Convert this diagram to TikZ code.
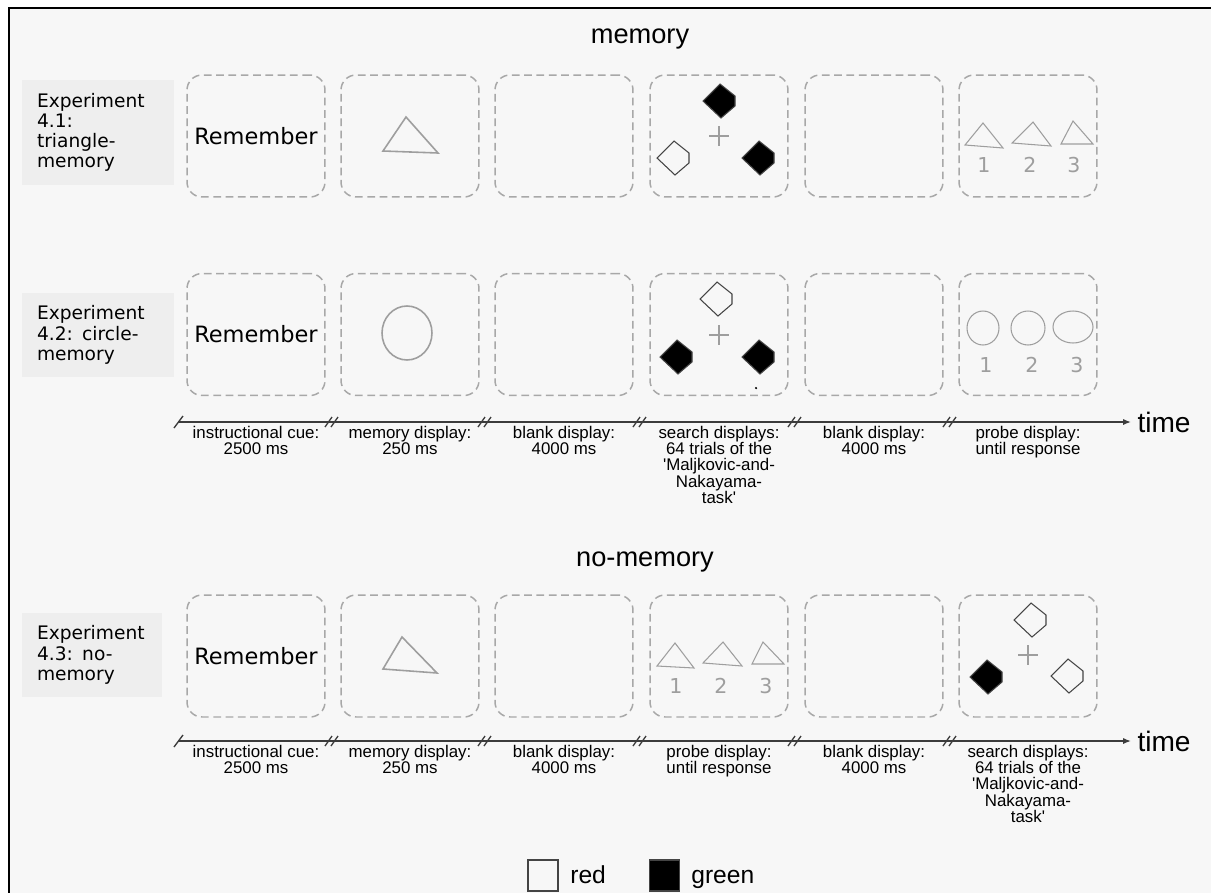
\documentclass[tikz,border=0pt]{standalone}
\usepackage{fontspec}
\setmainfont{Liberation Sans}[Ligatures=TeXOff]
\newfontfamily\dejavu{DejaVu Sans}
\usepackage{tikz}
\usetikzlibrary{arrows.meta}
\usepackage{xcolor}
\definecolor{PageGray}{HTML}{F7F7F7}
\definecolor{LabelGray}{HTML}{EEEEEE}
\definecolor{FrameGray}{HTML}{A8A8A8}
\definecolor{ShapeGray}{HTML}{9E9E9E}
\definecolor{AxisGray}{HTML}{3C3C3C}
\definecolor{GemLine}{HTML}{444444}

\tikzset{
  screen/.style={draw=FrameGray, line width=0.85pt, dash pattern=on 4.4pt off 2.6pt,
    rounded corners=0.3cm, minimum width=2.76cm, minimum height=2.44cm, inner sep=0pt,
    font=\dejavu\fontsize{12.8}{14}\selectfont},
  explabel/.style={fill=LabelGray, inner xsep=0.3cm, inner ysep=0pt, align=left,
    font=\dejavu\fontsize{10.6}{11.5}\selectfont},
  steplabel/.style={anchor=north, inner sep=0pt, align=center, font=\fontsize{9.6}{9.2}\selectfont},
  probenum/.style={inner sep=0pt, text=ShapeGray, font=\dejavu\fontsize{11.7}{12}\selectfont},
  probeline/.style={draw=ShapeGray, line width=0.6pt},
  gemline/.style={draw=GemLine, line width=0.6pt},
  axisline/.style={draw=AxisGray, line width=0.75pt},
  legendbox/.style={draw=GemLine, line width=0.7pt, minimum width=0.6cm, minimum height=0.62cm, inner sep=0pt},
  legendtext/.style={anchor=base west, inner sep=0pt, font=\fontsize{14}{16}\selectfont}
}
\newcommand{\itemgem}[3]{\draw[gemline, fill=#3, shift={(#1,#2)}] (-17,0) -- (0,-17) -- (15,-5) -- (15,5) -- (1,17) -- cycle;}
\newcommand{\fixcross}[2]{\draw[probeline, shift={(#1,#2)}] (-10,0) -- (10,0) (0,-10) -- (0,10);}

\begin{document}
\begin{tikzpicture}[x=0.02cm, y=-0.02cm]
  \useasboundingbox (0,0) rectangle (1211,893);
  \fill[white] (0,0) rectangle (1211,893);
  \fill[PageGray] (9,8) rectangle (1211,893);
  \draw[black, line width=1.1pt] (9,893) -- (9,8) -- (1211,8);

  \node[anchor=base, font=\fontsize{15.5}{18}\selectfont] (ttlmem) at (640,43) {memory};
  \node[anchor=base, font=\fontsize{15.5}{18}\selectfont] (ttlnomem) at (645,566) {no-memory};

  \node[explabel, minimum height=2.1cm, text width=2.44cm] (exa) at (98,132.5) {Experiment\\4.1:\\triangle-\\memory};
  \node[explabel, minimum height=1.68cm, text width=2.44cm] (exb) at (98,335) {Experiment\\4.2: circle-\\memory};
  \node[explabel, minimum height=1.68cm, text width=2.2cm] (exc) at (92,655) {Experiment\\4.3: no-\\memory};

  \foreach \row/\ry in {a/136, b/334.5, c/656}{
    \node[screen] (\row1) at (256,\ry) {Remember};
    \foreach \c/\cx in {2/410, 3/564, 4/719, 5/874, 6/1028}
      \node[screen] (\row\c) at (\cx,\ry) {};
  }

  % memory row a
  \draw[probeline, line width=0.9pt] (406,117) -- (383,151) -- (438,153) -- cycle;
  \itemgem{720}{101}{black}
  \itemgem{674}{158}{none}
  \itemgem{759}{158}{black}
  \fixcross{719}{136}
  \draw[probeline] (983,123) -- (965,145) -- (1003,148) -- cycle;
  \draw[probeline] (1033,122) -- (1012,143) -- (1051,146) -- cycle;
  \draw[probeline] (1073,121) -- (1061,144) -- (1093,144) -- cycle;
  \foreach \n/\x in {1/984, 2/1030, 3/1074}
    \node[probenum] (npa\n) at (\x,165) {\n};

  % memory row b
  \draw[probeline, line width=0.9pt] (407,333) ellipse [x radius=0.5cm, y radius=0.54cm];
  \itemgem{717}{299}{none}
  \itemgem{677}{357}{black}
  \itemgem{759}{357}{black}
  \fixcross{719}{335}
  \fill (756,388) circle (0.025cm);
  \draw[probeline] (983,328) ellipse [x radius=0.32cm, y radius=0.34cm];
  \draw[probeline] (1028,328) ellipse [x radius=0.34cm, y radius=0.34cm];
  \draw[probeline] (1073,327) ellipse [x radius=0.4cm, y radius=0.32cm];
  \foreach \n/\x in {1/986, 2/1032, 3/1077}
    \node[probenum] (npb\n) at (\x,365) {\n};

  % no-memory row c
  \draw[probeline, line width=0.9pt] (402,637) -- (383,669) -- (437,673) -- cycle;
  \draw[probeline] (675,643) -- (657,666) -- (694,668) -- cycle;
  \draw[probeline] (723,642) -- (703,663) -- (742,666) -- cycle;
  \draw[probeline] (763,642) -- (752,664) -- (784,664) -- cycle;
  \foreach \n/\x in {1/676, 2/721, 3/766}
    \node[probenum] (npc\n) at (\x,686) {\n};
  \itemgem{1031}{620}{none}
  \itemgem{987}{677}{black}
  \itemgem{1068}{676}{none}
  \fixcross{1028}{655}

  % time axes
  \foreach \ax/\ay in {a/422, c/741}{
    \coordinate (ax\ax) at (178,\ay);
    \node[anchor=west, inner xsep=3.5pt, inner ysep=0pt, font=\fontsize{16}{18}\selectfont] (time\ax) at (1131,\ay) {time};
    \draw[axisline, -{Latex[length=4.5pt,width=3.5pt]}] (ax\ax) -- (time\ax.west);
    \draw[axisline] (174,\ay+6) -- (183,\ay-6);
    \foreach \g in {333,486,641,796,951}{
      \draw[axisline] (\g-8,\ay+5) -- (\g-1,\ay-5);
      \draw[axisline] (\g-2,\ay+5) -- (\g+5,\ay-5);
    }
  }

  \foreach \n/\x/\txt in {1/256/{instructional cue:\\2500 ms}, 2/410/{memory display:\\250 ms},
      3/564/{blank display:\\4000 ms}, 4/719/{search displays:\\64 trials of the\\'Maljkovic-and-\\Nakayama-\\task'},
      5/874/{blank display:\\4000 ms}, 6/1028/{probe display:\\until response}}
    \node[steplabel] (sa\n) at (\x,426) {\txt};

  \foreach \n/\x/\txt in {1/256/{instructional cue:\\2500 ms}, 2/410/{memory display:\\250 ms},
      3/564/{blank display:\\4000 ms}, 4/719/{probe display:\\until response},
      5/874/{blank display:\\4000 ms}, 6/1028/{search displays:\\64 trials of the\\'Maljkovic-and-\\Nakayama-\\task'}}
    \node[steplabel] (sc\n) at (\x,745) {\txt};

  % legend
  \node[legendbox] (redkey) at (543,875.5) {};
  \node[legendtext] (redtxt) at (570,883) {red};
  \node[legendbox, fill=black] (greenkey) at (664.5,875.5) {};
  \node[legendtext] (greentxt) at (691,883) {green};
\end{tikzpicture}
\end{document}
